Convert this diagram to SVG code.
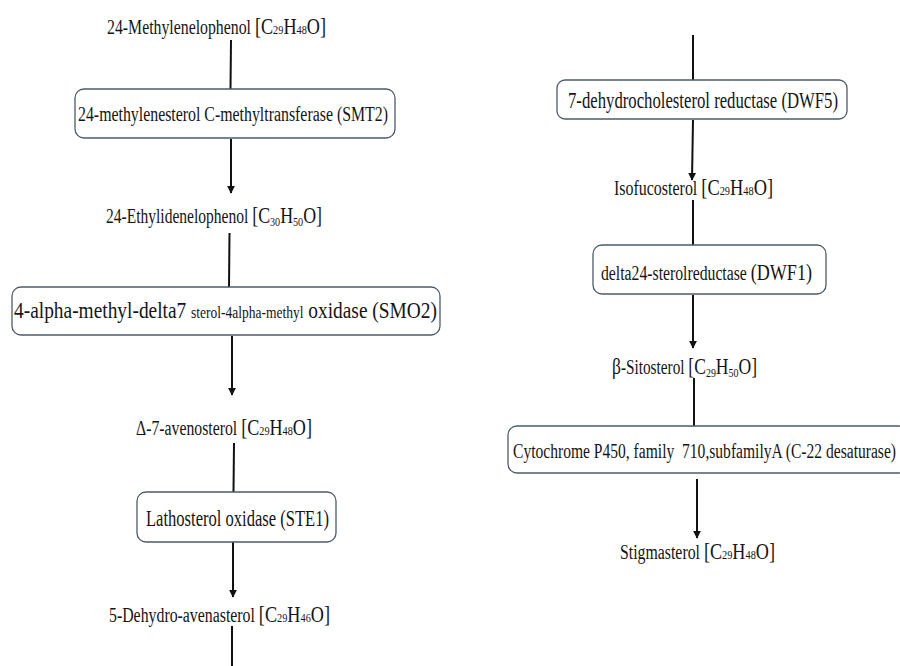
<svg xmlns="http://www.w3.org/2000/svg" width="900" height="666" viewBox="0 0 900 666">
<defs>
<style>
.bg{fill:#ffffff}
.b{font-size:23px}
.s{font-size:13px}
.sm{font-size:16px}
.box{fill:#ffffff;stroke:#4d5b69;stroke-width:1.3}
.ln{stroke:#111;stroke-width:2;fill:none}
.ar{stroke:#111;stroke-width:2;fill:none;marker-end:url(#ah)}
</style>
<marker id="ah" viewBox="0 0 10 10" refX="9" refY="5" markerWidth="4" markerHeight="5" orient="auto" markerUnits="strokeWidth">
<path d="M0,0 L10,5 L0,10 z" fill="#111"/>
</marker>
</defs>
<rect class="bg" x="0" y="0" width="900" height="666"/>
<g id="connectors">
<line class="ln" x1="231" y1="40" x2="230.5" y2="89"/>
<line class="ar" x1="231" y1="139" x2="231" y2="193"/>
<line class="ln" x1="229.5" y1="233" x2="229" y2="287"/>
<line class="ar" x1="232" y1="336" x2="232" y2="395"/>
<line class="ln" x1="234" y1="443" x2="233.5" y2="492"/>
<line class="ar" x1="233" y1="542" x2="233" y2="597"/>
<line class="ln" x1="232" y1="626" x2="232" y2="666"/>
<line class="ln" x1="693" y1="35" x2="693" y2="80"/>
<line class="ar" x1="693" y1="120" x2="692" y2="180"/>
<line class="ln" x1="693" y1="200" x2="693" y2="245"/>
<line class="ar" x1="693" y1="295" x2="693" y2="348"/>
<line class="ln" x1="694" y1="378" x2="694" y2="426"/>
<line class="ar" x1="697" y1="479" x2="697" y2="538"/>
</g>
<g font-family="Liberation Serif, Times New Roman, serif" font-size="20" fill="#151515">
<g id="n1"><text x="107" y="34" textLength="219" lengthAdjust="spacingAndGlyphs">24-Methylenelophenol <tspan class="b">[C</tspan><tspan class="s">29</tspan><tspan class="b">H</tspan><tspan class="s">48</tspan><tspan class="b">O]</tspan></text></g>
<g id="n2"><rect class="box" x="75" y="89" width="320" height="49" rx="9"/><text x="78" y="121" textLength="310" lengthAdjust="spacingAndGlyphs">24-methylenesterol C-methyltransferase  (SMT2)</text></g>
<g id="n3"><text x="106" y="223" textLength="216" lengthAdjust="spacingAndGlyphs">24-Ethylidenelophenol <tspan class="b">[C</tspan><tspan class="s" dy="3">30</tspan><tspan class="b" dy="-3">H</tspan><tspan class="s" dy="3">50</tspan><tspan class="b" dy="-3">O]</tspan></text></g>
<g id="n4"><rect class="box" x="12" y="287" width="428" height="48" rx="9"/><text x="14" y="318" textLength="423" lengthAdjust="spacingAndGlyphs"><tspan class="b">4-alpha-methyl-delta7 </tspan><tspan class="sm">sterol-4alpha-methyl</tspan><tspan class="b"> oxidase (SMO2)</tspan></text></g>
<g id="n5"><text x="136" y="435" textLength="176" lengthAdjust="spacingAndGlyphs">Δ-7-avenosterol <tspan class="b">[C</tspan><tspan class="s">29</tspan><tspan class="b">H</tspan><tspan class="s">48</tspan><tspan class="b">O]</tspan></text></g>
<g id="n6"><rect class="box" x="137" y="492" width="199" height="50" rx="9"/><text class="b" x="146" y="526" textLength="183" lengthAdjust="spacingAndGlyphs">Lathosterol oxidase (STE1)</text></g>
<g id="n7"><text x="109" y="622" textLength="221" lengthAdjust="spacingAndGlyphs">5-Dehydro-avenasterol <tspan class="b">[C</tspan><tspan class="s">29</tspan><tspan class="b">H</tspan><tspan class="s">46</tspan><tspan class="b">O]</tspan></text></g>
<g id="n8"><rect class="box" x="557" y="80" width="290" height="39" rx="8"/><text class="b" x="568" y="108" textLength="270" lengthAdjust="spacingAndGlyphs">7-dehydrocholesterol reductase (DWF5)</text></g>
<g id="n9"><text x="614" y="195" textLength="159" lengthAdjust="spacingAndGlyphs">Isofucosterol <tspan class="b">[C</tspan><tspan class="s">29</tspan><tspan class="b">H</tspan><tspan class="s">48</tspan><tspan class="b">O]</tspan></text></g>
<g id="n10"><rect class="box" x="593" y="245" width="233" height="49" rx="9"/><text x="601" y="280" textLength="211" lengthAdjust="spacingAndGlyphs">delta24-sterolreductase  <tspan class="b">(DWF1)</tspan></text></g>
<g id="n11"><text x="612" y="374" textLength="145" lengthAdjust="spacingAndGlyphs"><tspan class="b">β</tspan>-Sitosterol <tspan class="b">[C</tspan><tspan class="s" dy="3">29</tspan><tspan class="b" dy="-3">H</tspan><tspan class="s" dy="3">50</tspan><tspan class="b" dy="-3">O]</tspan></text></g>
<g id="n12"><rect class="box" x="508" y="426" width="400" height="47" rx="9"/><text x="513" y="458" textLength="383" lengthAdjust="spacingAndGlyphs" xml:space="preserve">Cytochrome P450, family  710,subfamilyA (C-22 desaturase)</text></g>
<g id="n13"><text x="620" y="559" textLength="155" lengthAdjust="spacingAndGlyphs">Stigmasterol <tspan class="b">[C</tspan><tspan class="s">29</tspan><tspan class="b">H</tspan><tspan class="s">48</tspan><tspan class="b">O]</tspan></text></g>
</g>
</svg>
